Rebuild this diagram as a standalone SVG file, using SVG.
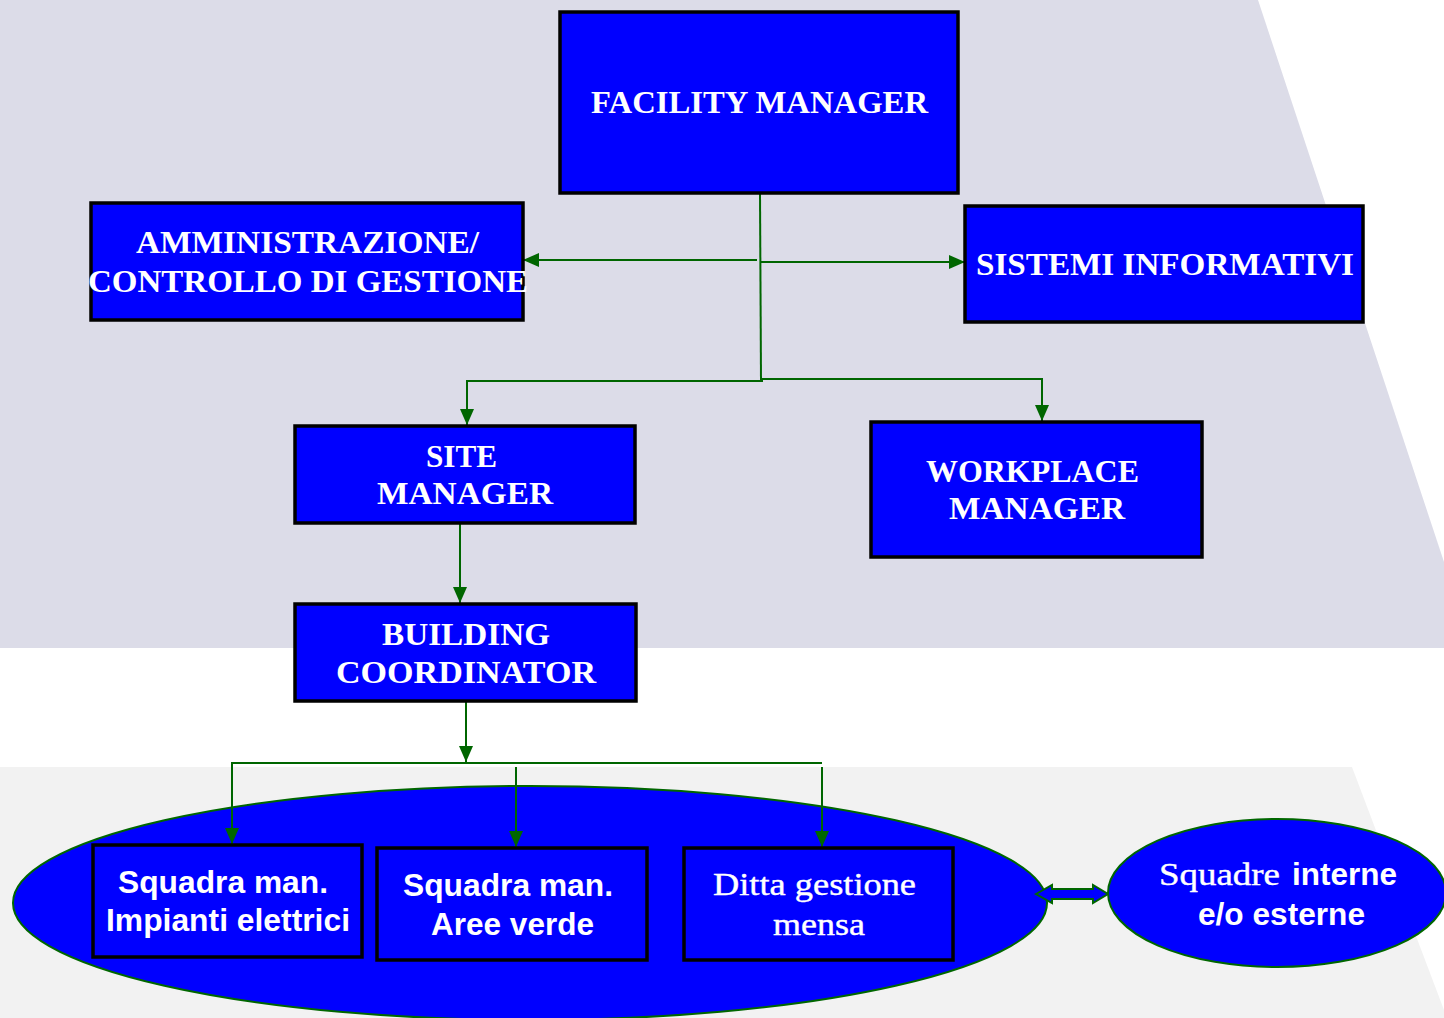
<svg xmlns="http://www.w3.org/2000/svg" width="1444" height="1018" viewBox="0 0 1444 1018">
  <style>
    .box { fill: #0000FF; stroke: #000000; stroke-width: 3.5; }
    .oval { fill: #0000FF; stroke: #006600; stroke-width: 2; }
    .link { fill: none; stroke: #006600; stroke-width: 2; }
    .t-serif { font-family: "Liberation Serif", "Times New Roman", serif; font-weight: bold; font-size: 32px; fill: #FFFFFF; }
    .t-serif-r { font-family: "Liberation Serif", "Times New Roman", serif; font-size: 32px; fill: #FFFFFF; stroke: #FFFFFF; stroke-width: 0.4; }
    .t-sans { font-family: "Liberation Sans", Arial, sans-serif; font-weight: bold; font-size: 31px; fill: #FFFFFF; }
  </style>
  <defs>
    <marker id="arrow" viewBox="0 0 16 14" refX="16" refY="7" markerWidth="16" markerHeight="14" markerUnits="userSpaceOnUse" orient="auto">
      <path d="M0,0 L16,7 L0,14 Z" fill="#006600"/>
    </marker>
  </defs>

  <!-- background bands -->
  <rect x="0" y="0" width="1444" height="1018" fill="#FFFFFF"/>
  <polygon points="0,0 1258,0 1444,562 1444,648 0,648" fill="#DCDCE8"/>
  <polygon points="0,767 1352,767 1444,1010 1444,1018 0,1018" fill="#F2F2F2"/>

  <!-- outer group of field teams -->
  <g id="gruppo-squadre">
    <ellipse class="oval" cx="530" cy="903" rx="517" ry="117"/>
  </g>

  <!-- connectors -->
  <g id="connectors">
    <line class="link" x1="760" y1="193" x2="761" y2="381"/>
    <line class="link" x1="757" y1="260" x2="523" y2="260" marker-end="url(#arrow)"/>
    <line class="link" x1="761" y1="262" x2="965" y2="262" marker-end="url(#arrow)"/>
    <polyline class="link" points="763,381 467,381 467,425" marker-end="url(#arrow)"/>
    <polyline class="link" points="761,379 1042,379 1042,421" marker-end="url(#arrow)"/>
    <line class="link" x1="460" y1="524" x2="460" y2="603" marker-end="url(#arrow)"/>
    <line class="link" x1="466" y1="702" x2="466" y2="762" marker-end="url(#arrow)"/>
    <polyline class="link" points="822,763 232,763 232,844" marker-end="url(#arrow)"/>
    <line class="link" x1="516" y1="767" x2="516" y2="847" marker-end="url(#arrow)"/>
    <line class="link" x1="822" y1="767" x2="822" y2="847" marker-end="url(#arrow)"/>
    <polygon points="1036,894 1052,885 1052,889 1093,889 1093,885 1108,894 1093,903 1093,899 1052,899 1052,903" fill="#0000FF" stroke="#006600" stroke-width="2"/>
  </g>

  <g id="facility-manager">
    <rect class="box" x="560" y="12" width="398" height="181"/>
    <text class="t-serif" x="591" y="113" textLength="337" lengthAdjust="spacingAndGlyphs">FACILITY MANAGER</text>
  </g>

  <g id="amministrazione">
    <rect class="box" x="91" y="203" width="432" height="117"/>
    <text class="t-serif" x="136" y="253" textLength="343" lengthAdjust="spacingAndGlyphs">AMMINISTRAZIONE/</text>
    <text class="t-serif" x="88" y="292" textLength="440" lengthAdjust="spacingAndGlyphs">CONTROLLO DI GESTIONE</text>
  </g>

  <g id="sistemi-informativi">
    <rect class="box" x="965" y="206" width="398" height="116"/>
    <text class="t-serif" x="976" y="275" textLength="378" lengthAdjust="spacingAndGlyphs">SISTEMI INFORMATIVI</text>
  </g>

  <g id="site-manager">
    <rect class="box" x="295" y="426" width="340" height="97"/>
    <text class="t-serif" x="426" y="467" textLength="71" lengthAdjust="spacingAndGlyphs">SITE</text>
    <text class="t-serif" x="377" y="504" textLength="176" lengthAdjust="spacingAndGlyphs">MANAGER</text>
  </g>

  <g id="workplace-manager">
    <rect class="box" x="871" y="422" width="331" height="135"/>
    <text class="t-serif" x="926" y="482" textLength="213" lengthAdjust="spacingAndGlyphs">WORKPLACE</text>
    <text class="t-serif" x="949" y="519" textLength="176" lengthAdjust="spacingAndGlyphs">MANAGER</text>
  </g>

  <g id="building-coordinator">
    <rect class="box" x="295" y="604" width="341" height="97"/>
    <text class="t-serif" x="382" y="645" textLength="168" lengthAdjust="spacingAndGlyphs">BUILDING</text>
    <text class="t-serif" x="336" y="683" textLength="260" lengthAdjust="spacingAndGlyphs">COORDINATOR</text>
  </g>

  <g id="squadra-impianti">
    <rect class="box" x="93" y="845" width="269" height="112"/>
    <text class="t-sans" x="118" y="893" textLength="210" lengthAdjust="spacingAndGlyphs">Squadra man.</text>
    <text class="t-sans" x="106" y="931" textLength="244" lengthAdjust="spacingAndGlyphs">Impianti elettrici</text>
  </g>

  <g id="squadra-verde">
    <rect class="box" x="377" y="848" width="270" height="112"/>
    <text class="t-sans" x="403" y="896" textLength="210" lengthAdjust="spacingAndGlyphs">Squadra man.</text>
    <text class="t-sans" x="431" y="935" textLength="163" lengthAdjust="spacingAndGlyphs">Aree verde</text>
  </g>

  <g id="ditta-mensa">
    <rect class="box" x="684" y="848" width="269" height="112"/>
    <text class="t-serif-r" x="713" y="895" textLength="203" lengthAdjust="spacingAndGlyphs">Ditta gestione</text>
    <text class="t-serif-r" x="773" y="935" textLength="92" lengthAdjust="spacingAndGlyphs">mensa</text>
  </g>

  <g id="squadre-esterne">
    <ellipse class="oval" cx="1277" cy="893" rx="169" ry="74"/>
    <text class="t-serif-r" x="1159" y="885" textLength="121" lengthAdjust="spacingAndGlyphs">Squadre</text>
    <text class="t-sans" x="1292" y="885" textLength="105" lengthAdjust="spacingAndGlyphs">interne</text>
    <text class="t-sans" x="1198" y="925" textLength="167" lengthAdjust="spacingAndGlyphs">e/o esterne</text>
  </g>
</svg>
